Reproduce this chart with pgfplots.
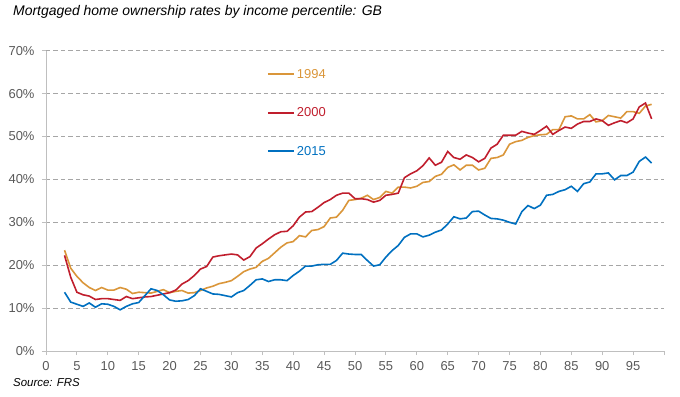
\documentclass[border=0pt]{standalone}
\usepackage{fontspec}
\setmainfont{Liberation Sans}
\usepackage{pgfplots}
\usepackage{pgfplotstable}
\pgfplotsset{compat=1.18}
\definecolor{cA}{RGB}{218,150,58}
\definecolor{cB}{RGB}{192,30,45}
\definecolor{cC}{RGB}{0,112,192}
\definecolor{tickgray}{RGB}{89,89,89}
\definecolor{gridgray}{RGB}{166,166,166}
\definecolor{axgray}{RGB}{191,191,191}

\pgfplotstableread{
x y
3 23.5
4 19.3
5 17.4
6 15.9
7 14.8
8 14.1
9 14.8
10 14.2
11 14.2
12 14.8
13 14.4
14 13.4
15 13.7
16 13.6
17 13.5
18 13.9
19 14.3
20 13.6
21 13.9
22 14.1
23 13.5
24 13.6
25 14.1
26 14.7
27 15.1
28 15.7
29 16.0
30 16.4
31 17.4
32 18.5
33 19.1
34 19.5
35 20.9
36 21.6
37 22.9
38 24.2
39 25.2
40 25.5
41 26.9
42 26.6
43 28.1
44 28.3
45 29.0
46 31.0
47 31.2
48 32.8
49 35.1
50 35.3
51 35.6
52 36.3
53 35.3
54 35.8
55 37.2
56 36.8
57 38.2
58 38.2
59 38.0
60 38.4
61 39.3
62 39.5
63 40.7
64 41.2
65 42.8
66 43.4
67 42.2
68 43.3
69 43.3
70 42.2
71 42.6
72 44.9
73 45.1
74 45.7
75 48.2
76 48.8
77 49.1
78 49.8
79 50.2
80 50.4
81 50.5
82 51.6
83 51.6
84 54.6
85 54.8
86 54.1
87 54.1
88 55.1
89 53.4
90 53.7
91 54.9
92 54.6
93 54.3
94 55.8
95 55.8
96 55.4
97 57.1
98 57.5
}\tA

\pgfplotstableread{
x y
3 22.3
4 17.2
5 13.7
6 13.1
7 12.8
8 12.0
9 12.2
10 12.2
11 12.0
12 11.8
13 12.7
14 12.2
15 12.4
16 12.6
17 12.7
18 13.0
19 13.3
20 13.6
21 14.2
22 15.6
23 16.4
24 17.6
25 19.1
26 19.7
27 21.9
28 22.2
29 22.4
30 22.6
31 22.4
32 21.2
33 22.0
34 24.0
35 25.0
36 26.1
37 27.1
38 27.8
39 27.9
40 29.2
41 31.2
42 32.4
43 32.5
44 33.5
45 34.6
46 35.3
47 36.3
48 36.8
49 36.8
50 35.5
51 35.5
52 35.3
53 34.7
54 35.1
55 36.3
56 36.5
57 36.8
58 40.4
59 41.3
60 42.0
61 43.2
62 45.0
63 43.3
64 44.0
65 46.5
66 45.1
67 44.7
68 45.7
69 45.1
70 44.1
71 44.9
72 47.3
73 48.2
74 50.3
75 50.3
76 50.3
77 51.2
78 50.8
79 50.5
80 51.4
81 52.4
82 50.5
83 51.4
84 52.2
85 51.9
86 52.9
87 53.5
88 53.5
89 54.1
90 53.7
91 52.6
92 53.2
93 53.7
94 53.2
95 54.1
96 56.9
97 57.8
98 54.1
}\tB

\pgfplotstableread{
x y
3 13.7
4 11.4
5 10.9
6 10.4
7 11.2
8 10.2
9 11.0
10 10.9
11 10.4
12 9.6
13 10.4
14 11.0
15 11.3
16 12.9
17 14.5
18 14.1
19 13.1
20 11.9
21 11.6
22 11.7
23 12.0
24 12.9
25 14.5
26 13.9
27 13.3
28 13.2
29 12.9
30 12.6
31 13.6
32 14.1
33 15.3
34 16.6
35 16.8
36 16.2
37 16.6
38 16.6
39 16.4
40 17.6
41 18.6
42 19.8
43 19.8
44 20.1
45 20.2
46 20.2
47 21.1
48 22.8
49 22.6
50 22.5
51 22.5
52 21.1
53 19.8
54 20.1
55 21.9
56 23.4
57 24.6
58 26.5
59 27.3
60 27.3
61 26.6
62 27.0
63 27.7
64 28.2
65 29.6
66 31.3
67 30.8
68 31.0
69 32.5
70 32.6
71 31.7
72 30.9
73 30.8
74 30.5
75 30.0
76 29.6
77 32.5
78 33.9
79 33.2
80 34.0
81 36.3
82 36.5
83 37.2
84 37.6
85 38.4
86 37.2
87 39.0
88 39.4
89 41.3
90 41.3
91 41.5
92 39.9
93 40.9
94 40.9
95 41.7
96 44.2
97 45.2
98 43.8
}\tC

\begin{document}
\begin{tikzpicture}
\begin{axis}[
  scale only axis,
  width=618bp, height=300.3bp,
  at={(0,0)}, anchor=south west,
  xmin=0, xmax=100, ymin=0, ymax=70,
  axis x line*=bottom, axis y line*=left,
  axis line style={axgray, line width=0.9bp},
  xtick={0,5,...,100},
  xticklabels={0,5,10,15,20,25,30,35,40,45,50,55,60,65,70,75,80,85,90,95,},
  ytick={0,10,...,70},
  yticklabel={\pgfmathprintnumber{\tick}\%},
  /pgf/number format/assume math mode=true,
  tick align=outside,
  major tick length=4bp,
  tick style={axgray, line width=0.9bp},
  ticklabel style={font=\fontsize{13}{15}\selectfont, text=tickgray},
  xticklabel style={yshift=-3bp},
  yticklabel style={xshift=-4bp},
  ymajorgrids,
  grid style={gridgray, line width=1bp, dash pattern=on 4.5bp off 3bp},
  clip=false,
  legend style={draw=none, fill=none, at={(0.357,0.946)}, anchor=north west,
    inner sep=0pt, row sep=24bp, font=\fontsize{13}{15}\selectfont,
    cells={anchor=west}},
  legend image code/.code={\draw[#1, line width=2.1bp] (0bp,0bp) -- (26bp,0bp);},
  legend cell align=left,
]
\addplot[cA, line width=1.6bp] table {\tA};
\addlegendentry{\textcolor{cA}{1994}}
\addplot[cB, line width=1.6bp] table {\tB};
\addlegendentry{\textcolor{cB}{2000}}
\addplot[cC, line width=1.6bp] table {\tC};
\addlegendentry{\textcolor{cC}{2015}}
\end{axis}
\node[anchor=west, inner sep=0pt, font=\fontsize{14}{16}\selectfont\itshape] at (-33bp,339bp) {Mortgaged home ownership rates by income percentile: GB};
\node[anchor=west, inner sep=0pt, font=\fontsize{11.5}{13}\selectfont\itshape] at (-33bp,-32bp) {Source: FRS};
\path (-46bp,-46bp) rectangle (634bp,351bp);
\end{tikzpicture}
\end{document}
